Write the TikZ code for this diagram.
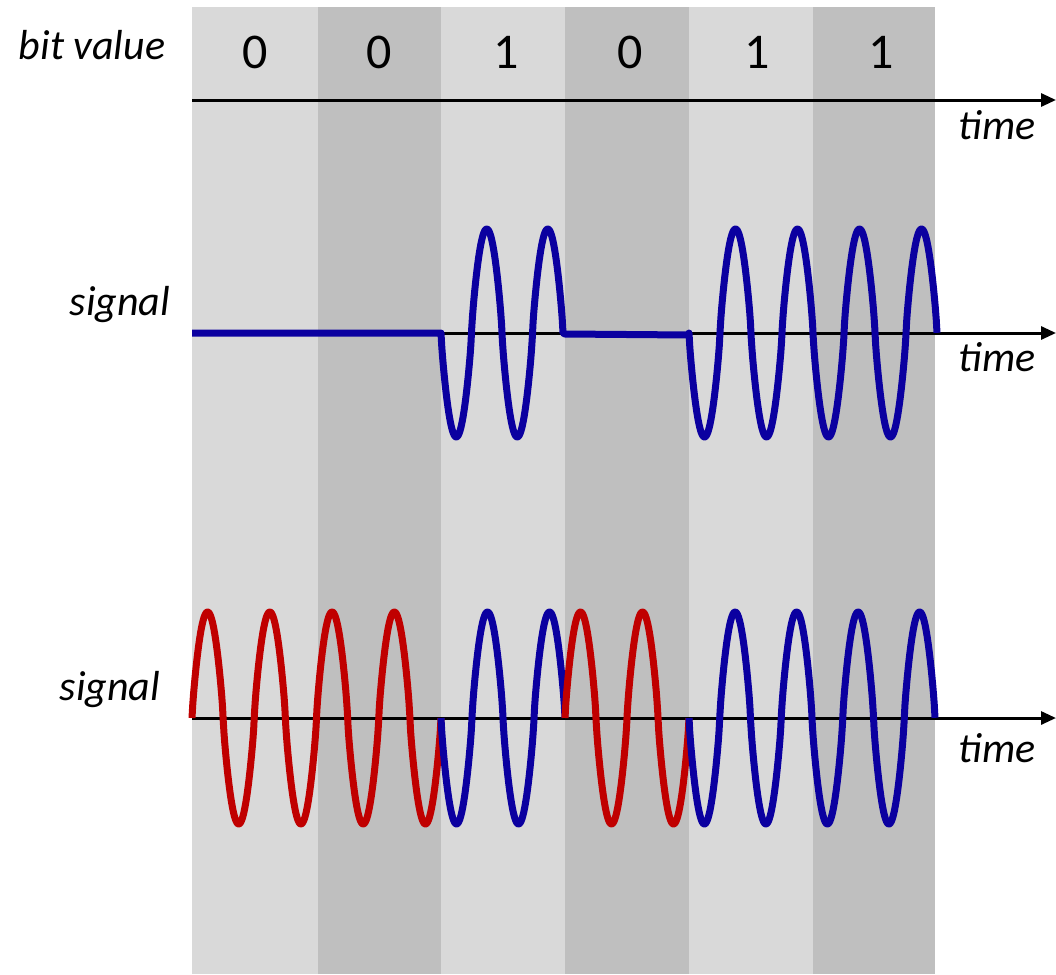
\documentclass[tikz,border=0pt]{standalone}
\usepackage{fontspec}
\setmainfont{Carlito}
\usetikzlibrary{arrows.meta}
\definecolor{lightstripe}{HTML}{D9D9D9}
\definecolor{darkstripe}{HTML}{BFBFBF}
\definecolor{sigblue}{HTML}{0B00A0}
\definecolor{sigred}{HTML}{C00000}
\tikzset{
  declare function={wv(\t)=(sin(\t)>=0?1:-1)*pow(abs(sin(\t))+0.00001,0.8);},
  axis/.style={line width=3pt, -{Triangle[length=15pt,width=13pt]}},
  wave/.style={line width=7pt, line join=round},
  lbl/.style={font=\fontsize{42}{42}\selectfont\itshape, inner sep=0pt},
  digit/.style={font=\fontsize{50}{50}\selectfont, inner sep=0pt},
}
\begin{document}
\begin{tikzpicture}[x=1pt,y=-1pt]
\useasboundingbox (0,0) rectangle (1056,974);
% stripes
\fill[lightstripe] (192,7) rectangle (318,974);
\fill[darkstripe] (318,7) rectangle (441,974);
\fill[lightstripe] (441,7) rectangle (565,974);
\fill[darkstripe] (565,7) rectangle (689,974);
\fill[lightstripe] (689,7) rectangle (813,974);
\fill[darkstripe] (813,7) rectangle (935,974);
% coordinates
\coordinate (a1s) at (192,100); \coordinate (a1e) at (1056,100);
\coordinate (a2s) at (192,333); \coordinate (a2e) at (1056,333);
\coordinate (a3s) at (192,718); \coordinate (a3e) at (1056,718);
% axes
\draw[axis] (a1s) -- (a1e);
\draw[axis] (a2s) -- (a2e);
\draw[axis] (a3s) -- (a3e);
% labels
\node[lbl] (bv) at (92,45) {bit value};
\node[lbl] (s1) at (120,305) {signal};
\node[lbl] (s2) at (110,690) {signal};
\node[lbl] (t1) at (997,125) {time};
\node[lbl] (t2) at (997,357) {time};
\node[lbl] (t3) at (997,748) {time};
% digits
\node[digit] (d1) at (255,52) {0};
\node[digit] (d2) at (379,52) {0};
\node[digit] (d3) at (506,52) {1};
\node[digit] (d4) at (630,52) {0};
\node[digit] (d5) at (757,52) {1};
\node[digit] (d6) at (881,52) {1};
% middle signal (on-off keying)
\draw[wave, sigblue] (192,333) -- (441,333)
  -- plot[domain=0:122, samples=160] ({441+\x},{333+104*wv((360/61)*\x)})
  -- (565,334) -- (689,335)
  -- plot[domain=0:248, samples=320] ({689+\x},{333+104*wv((360/62)*\x)});
% bottom signal (phase shift keying)
\draw[wave, sigred] plot[domain=0:249, samples=320] ({192+\x},{718-106*wv((360/62.25)*\x)});
\draw[wave, sigblue] plot[domain=0:124, samples=160] ({441+\x},{718+106*wv((360/62)*\x)});
\draw[wave, sigred] plot[domain=0:124, samples=160] ({565+\x},{718-106*wv((360/62)*\x)});
\draw[wave, sigblue] plot[domain=0:246, samples=320] ({689+\x},{718+106*wv((360/61.5)*\x)});
\end{tikzpicture}
\end{document}
